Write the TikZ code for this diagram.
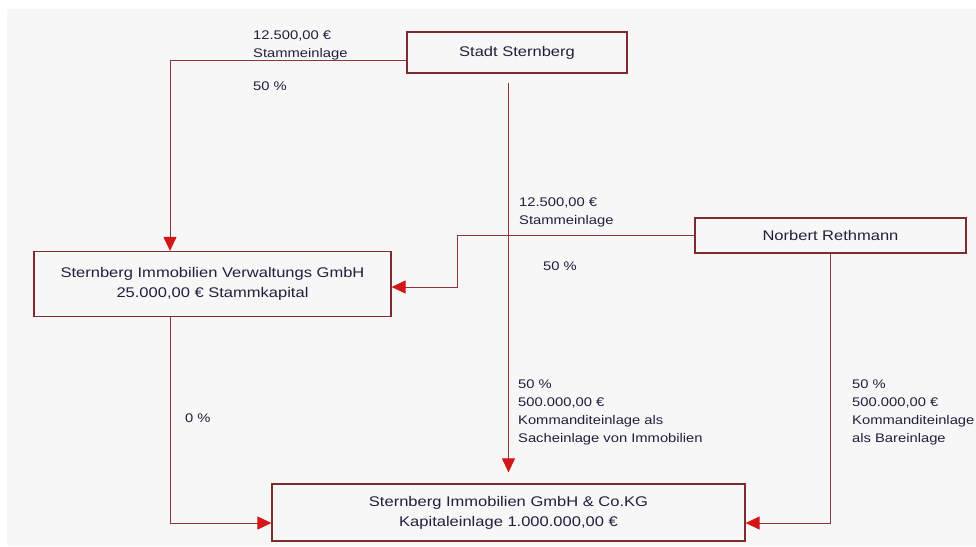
\documentclass[tikz,border=0pt]{standalone}
\usepackage{fontspec}
\setmainfont[FakeStretch=1.18]{Liberation Sans}
\usepackage{tikz}
\usetikzlibrary{arrows.meta, positioning}
\definecolor{boxline}{RGB}{125,45,45}
\definecolor{conline}{RGB}{140,55,55}
\definecolor{tipred}{RGB}{212,22,22}
\definecolor{textnavy}{RGB}{32,32,62}
\definecolor{bggray}{RGB}{247,247,247}
\tikzstyle{rec} = [rectangle, inner sep=0, text centered, align=center, draw=boxline, line width=1.2pt, text=textnavy, font=\fontsize{14}{20}\selectfont]
\tikzstyle{arrow} = [draw=conline, line width=1pt, -{Triangle[length=14pt,width=13pt,color=tipred]}]
\tikzstyle{share} = [anchor=north west, inner sep=0, align=left, text=textnavy, font=\fontsize{12.5}{18}\selectfont]

\begin{document}
\begin{tikzpicture}[x=1pt, y=-1pt]
				\useasboundingbox (0,0) rectangle (976,546);
				\fill [bggray] (7,9) rectangle (976,546);
				% Gesellschafter und Gesellschaften
				\node (stadt) [rec, minimum width=220pt, minimum height=41pt] at (517,52.5) {Stadt Sternberg};
				\node (verwaltung) [rec, minimum width=357pt, minimum height=65pt] at (212.5,284) {Sternberg Immobilien Verwaltungs GmbH\\25.000,00 € Stammkapital};
				\node (rethmann) [rec, minimum width=271pt, minimum height=35pt] at (830.5,235.5) {Norbert Rethmann};
				\node (kg) [rec, minimum width=473pt, minimum height=57pt] at (508.5,512.5) {Sternberg Immobilien GmbH \& Co.KG\\Kapitaleinlage 1.000.000,00 €};
				% Beteiligungen
				\draw [arrow] ([yshift=-7.5pt]stadt.west) -| ([xshift=-42.5pt]verwaltung.north);
				\draw [arrow, shorten <=9pt, shorten >=11pt] (kg.north |- stadt.south) -- (kg.north);
				\draw [arrow] (rethmann.west) -- ++(-237pt,0) |- ([yshift=-3pt]verwaltung.east);
				\draw [arrow] (rethmann.south) |- ([yshift=-10.5pt]kg.east);
				\draw [arrow] ([xshift=-42.5pt]verwaltung.south) |- ([yshift=-10.5pt]kg.west);
				% Einlagen
				\node (stadt_einlage) [share] at (253,31) {12.500,00 €\\Stammeinlage};
				\node (stadt_anteil) [share] at (253,82) {50 \%};
				\node (rethmann_einlage) [share] at (519,198) {12.500,00 €\\Stammeinlage};
				\node (rethmann_anteil) [share] at (543,262) {50 \%};
				\node (verwaltung_anteil) [share] at (185,414) {0 \%};
				\node (stadt_kommandit) [share] at (518,380) {50 \%\\500.000,00 €\\Kommanditeinlage als\\Sacheinlage von Immobilien};
				\node (rethmann_kommandit) [share] at (852,380) {50 \%\\500.000,00 €\\Kommanditeinlage\\als Bareinlage};
			\end{tikzpicture}
\end{document}
